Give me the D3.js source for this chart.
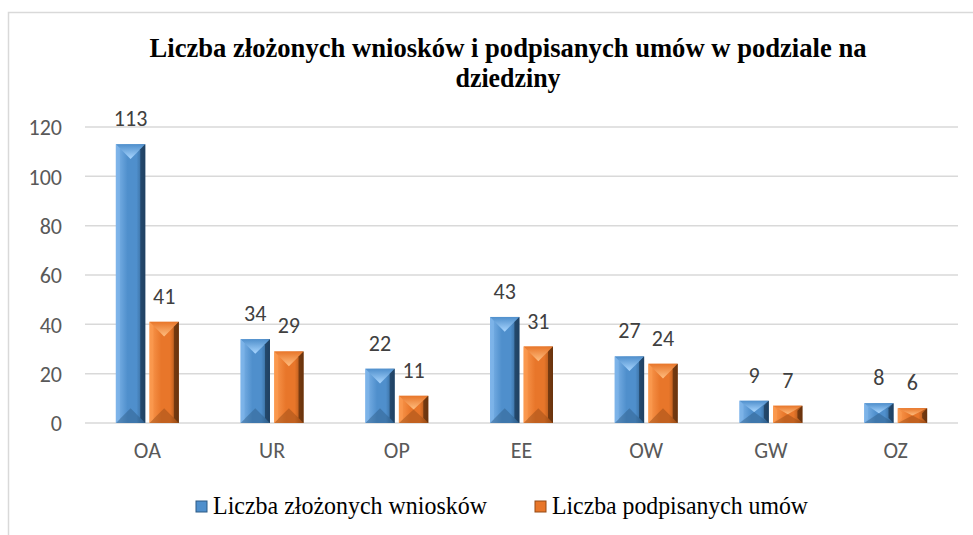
<!DOCTYPE html>
<html>
<head>
<meta charset="utf-8">
<script src="https://cdn.jsdelivr.net/npm/d3@7"></script>
<style>
  body { margin: 0; background: #fff; }
  svg { display: block; }
</style>
</head>
<body>
<div id="chart"></div>
<script>
// data
var categories = ["OA", "UR", "OP", "EE", "OW", "GW", "OZ"];
var wnioski = [113, 34, 22, 43, 27, 9, 8];
var umowy = [41, 29, 11, 31, 24, 7, 6];
var seriesNames = ["Liczba złożonych wniosków", "Liczba podpisanych umów"];
var yTicks = [0, 20, 40, 60, 80, 100, 120];

var SERIF = "'Liberation Serif', 'Times New Roman', serif";
var SANS = "Carlito, Calibri, 'Open Sans', sans-serif";

var W = 973, H = 535;
var margin = { top: 127, right: 15, bottom: 112, left: 85 };
var plotW = 958 - margin.left, plotH = 423 - margin.top;

var svg = d3.select("#chart").append("svg")
    .attr("width", W).attr("height", H);

// chart border (runs off the right / bottom)
svg.append("rect")
    .attr("x", 8.5).attr("y", 12.5)
    .attr("width", 1000).attr("height", 600)
    .attr("fill", "none").attr("stroke", "#d9d9d9").attr("stroke-width", 1.5);

var palettes = [
    { base: "#4f8fcc", light: "#7fb5ea", lighter: "#a9d6ff", dark: "#2c5a85", darker: "#1a3652" },
    { base: "#e8762a", light: "#fb9a50", lighter: "#ffbe80", dark: "#954a15", darker: "#552a0a" }
];

var defs = svg.append("defs");
palettes.forEach(function (p, i) {
    var g = defs.append("linearGradient").attr("id", "body" + i)
        .attr("x1", "0").attr("x2", "1").attr("y1", "0").attr("y2", "0");
    g.append("stop").attr("offset", "0").attr("stop-color", p.light);
    g.append("stop").attr("offset", "0.4").attr("stop-color", p.base);
    g.append("stop").attr("offset", "0.7").attr("stop-color", p.base);
    g.append("stop").attr("offset", "1").attr("stop-color", p.dark);

    var t = defs.append("linearGradient").attr("id", "top" + i)
        .attr("x1", "0").attr("x2", "0").attr("y1", "0").attr("y2", "1");
    t.append("stop").attr("offset", "0").attr("stop-color", p.base);
    t.append("stop").attr("offset", "1").attr("stop-color", p.lighter);
});

var g = svg.append("g")
    .attr("transform", "translate(" + margin.left + "," + margin.top + ")");

var x0 = d3.scaleBand().domain(categories).range([0, plotW]).padding(0);
var x1 = d3.scaleBand().domain([0, 1]).range([0, 63]).paddingInner(0.125);
var groupOffset = (x0.bandwidth() - 63) / 2;
var y = d3.scaleLinear().domain([0, 120]).range([plotH, 0]);

// gridlines
g.selectAll(".grid").data(yTicks).enter().append("line")
    .attr("x1", 0).attr("x2", plotW)
    .attr("y1", function (d) { return y(d); })
    .attr("y2", function (d) { return y(d); })
    .attr("stroke", "#d9d9d9").attr("stroke-width", 1.5);

// y axis labels
var yAxis = g.append("g").attr("transform", "translate(-23,0)")
    .call(d3.axisLeft(y).tickValues(yTicks).tickSize(0).tickPadding(0));
yAxis.select(".domain").remove();
yAxis.selectAll("text")
    .style("font-family", SANS).style("font-size", "22px")
    .attr("fill", "#595959")
    .attr("dy", "0.35em");

// x axis labels
var xAxis = g.append("g").attr("transform", "translate(0," + plotH + ")")
    .call(d3.axisBottom(x0).tickSize(0).tickPadding(19));
xAxis.select(".domain").remove();
xAxis.selectAll("text")
    .style("font-family", SANS).style("font-size", "22px")
    .attr("fill", "#595959");

// bars with bevel effect
var allSeries = [wnioski, umowy];
allSeries.forEach(function (values, si) {
    var p = palettes[si];
    var bars = g.selectAll(".bar" + si).data(values).enter().append("g")
        .attr("class", "bar" + si);

    function bx(d, i) { return x0(categories[i]) + groupOffset + x1(si); }
    var bw = x1.bandwidth();

    bars.append("rect")
        .attr("x", bx)
        .attr("y", function (d) { return y(d); })
        .attr("width", bw)
        .attr("height", function (d) { return plotH - y(d); })
        .attr("fill", "url(#body" + si + ")");

    var bev = function (d) { return Math.min(bw / 2, (plotH - y(d)) / 2); };
    var side = 4;

    // top bevel
    bars.append("path")
        .attr("d", function (d, i) {
            var x = bx(d, i), t = y(d), b = bev(d);
            return "M" + x + "," + t + "L" + (x + bw) + "," + t +
                "L" + (x + bw / 2) + "," + (t + b) + "Z";
        })
        .attr("fill", "url(#top" + si + ")");

    // bottom bevel
    bars.append("path")
        .attr("d", function (d, i) {
            var x = bx(d, i), b = bev(d);
            return "M" + x + "," + plotH + "L" + (x + bw) + "," + plotH +
                "L" + (x + bw / 2) + "," + (plotH - b) + "Z";
        })
        .attr("fill", p.dark).attr("opacity", 0.45);

    // left highlight strip
    bars.append("path")
        .attr("d", function (d, i) {
            var x = bx(d, i), t = y(d);
            return "M" + x + "," + t + "L" + (x + side) + "," + (t + side) +
                "L" + (x + side) + "," + (plotH - side) + "L" + x + "," + plotH + "Z";
        })
        .attr("fill", p.light).attr("opacity", 0.7);

    // right shadow strip
    bars.append("path")
        .attr("d", function (d, i) {
            var x = bx(d, i) + bw, t = y(d);
            return "M" + x + "," + t + "L" + (x - side - 1) + "," + (t + side + 1) +
                "L" + (x - side - 1) + "," + (plotH - side - 1) + "L" + x + "," + plotH + "Z";
        })
        .attr("fill", p.darker).attr("opacity", 0.7);

    // data labels
    g.selectAll(".lbl" + si).data(values).enter().append("text")
        .attr("x", function (d, i) { return bx(d, i) + bw / 2; })
        .attr("y", function (d) { return y(d) - 18; })
        .attr("text-anchor", "middle")
        .style("font-family", SANS).style("font-size", "22px")
        .attr("fill", "#404040")
        .text(function (d) { return d; });
});

// title (the reference is squeezed sideways, hence textLength)
var title = svg.append("text")
    .attr("text-anchor", "middle")
    .style("font-family", SERIF).style("font-weight", "bold").style("font-size", "27px")
    .attr("fill", "#000");
title.append("tspan").attr("x", 508).attr("y", 57)
    .attr("textLength", 717).attr("lengthAdjust", "spacingAndGlyphs")
    .text("Liczba złożonych wniosków i podpisanych umów w podziale na");
title.append("tspan").attr("x", 508).attr("y", 87)
    .attr("textLength", 105).attr("lengthAdjust", "spacingAndGlyphs")
    .text("dziedziny");

// legend
var legendX = [196, 535];
var legendLen = [274, 256];
var legend = svg.selectAll(".legend").data(seriesNames).enter().append("g")
    .attr("transform", function (d, i) { return "translate(" + legendX[i] + ",501)"; });
legend.append("rect")
    .attr("x", 0).attr("y", 0).attr("width", 11).attr("height", 11)
    .attr("fill", function (d, i) { return palettes[i].base; })
    .attr("stroke", function (d, i) { return palettes[i].dark; }).attr("stroke-width", 1);
legend.append("text")
    .attr("x", 17).attr("y", 13)
    .attr("textLength", function (d, i) { return legendLen[i]; })
    .attr("lengthAdjust", "spacingAndGlyphs")
    .style("font-family", SERIF).style("font-size", "26px")
    .attr("fill", "#000")
    .text(function (d) { return d; });
</script>
</body>
</html>
